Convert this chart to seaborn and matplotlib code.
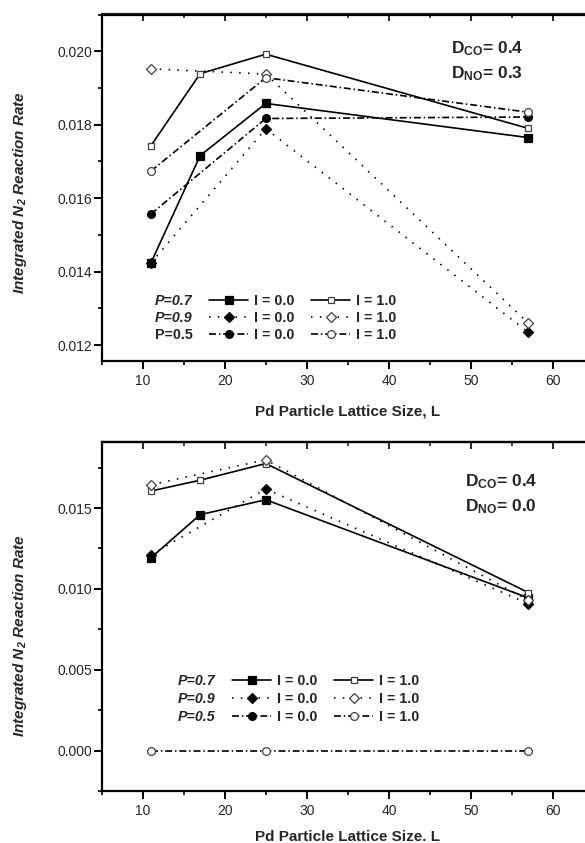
import matplotlib
matplotlib.use("Agg")
import matplotlib.pyplot as plt
from matplotlib.lines import Line2D
from matplotlib.ticker import MultipleLocator, FormatStrFormatter
import seaborn as sns

# Lattice sizes L
L_all = [11, 17, 25, 57]
L_three = [11, 25, 57]

# Upper panel: D_CO = 0.4, D_NO = 0.3
top_p07_i0 = [0.01424, 0.01716, 0.01858, 0.01765]
top_p07_i1 = [0.01743, 0.01939, 0.01992, 0.01790]
top_p09_i0 = [0.01424, 0.01789, 0.01235]
top_p09_i1 = [0.01952, 0.01938, 0.01260]
top_p05_i0 = [0.01557, 0.01817, 0.01821]
top_p05_i1 = [0.01674, 0.01928, 0.01834]

# Lower panel: D_CO = 0.4, D_NO = 0.0
bot_p07_i0 = [0.01192, 0.01459, 0.01551, 0.00944]
bot_p07_i1 = [0.01605, 0.01672, 0.01775, 0.00977]
bot_p09_i0 = [0.01211, 0.01617, 0.00908]
bot_p09_i1 = [0.01644, 0.01798, 0.00930]
bot_p05_i1 = [0.0, 0.0, 0.0]

p_labels = ["P=0.7", "P=0.9", "P=0.5"]
i_labels = ["I = 0.0", "I = 1.0"]
xlabel_top = "Pd Particle Lattice Size, L"
xlabel_bot = "Pd Particle Lattice Size. L"
ylabel = "Integrated N$_2$ Reaction Rate"
top_params = ["D$_{CO}$= 0.4", "D$_{NO}$= 0.3"]
bot_params = ["D$_{CO}$= 0.4", "D$_{NO}$= 0.0"]

sns.set_style("ticks")
plt.rcParams["font.family"] = ["Liberation Sans", "DejaVu Sans"]
plt.rcParams["mathtext.default"] = "regular"

W, H = 585, 843
fig = plt.figure(figsize=(W / 100, H / 100), dpi=100)


def fx(px):
    return px / W


def fy(py):
    return 1 - py / H


LW = 1.2
SOLID = "-"
DOTTED = (0, (0.9, 4.4))
DASHDOT = (0, (4.2, 1.7, 0.9, 1.7))

# (linestyle, marker, filled, markersize)
STYLE = {
    ("0.7", 0): (SOLID, "s", True, 5.3),
    ("0.7", 1): (SOLID, "s", False, 5.0),
    ("0.9", 0): (DOTTED, "D", True, 5.0),
    ("0.9", 1): (DOTTED, "D", False, 5.0),
    ("0.5", 0): (DASHDOT, "o", True, 5.6),
    ("0.5", 1): (DASHDOT, "o", False, 5.6),
}


def kw(key):
    ls, mk, filled, ms = STYLE[key]
    return dict(
        color="black", linestyle=ls, linewidth=LW, marker=mk, markersize=ms,
        markerfacecolor="black" if filled else "white",
        markeredgecolor="black" if filled else "0.25",
        markeredgewidth=0.9,
    )


def series(ax, x, y, key):
    sns.lineplot(x=x, y=y, ax=ax, legend=False, estimator=None,
                 errorbar=None, sort=False, **kw(key))


def style_axes(ax, ylim, ymajor, yminor):
    ax.set_xlim(5, 65)
    ax.set_ylim(*ylim)
    ax.xaxis.set_major_locator(MultipleLocator(10))
    ax.xaxis.set_minor_locator(MultipleLocator(5))
    ax.yaxis.set_major_locator(MultipleLocator(ymajor))
    ax.yaxis.set_minor_locator(MultipleLocator(yminor))
    ax.yaxis.set_major_formatter(FormatStrFormatter("%.3f"))
    for side in ["left", "bottom", "top"]:
        ax.spines[side].set_linewidth(1.6)
        ax.spines[side].set_color("black")
    ax.spines["right"].set_visible(False)
    ax.tick_params(axis="both", which="major", direction="out", length=5.5,
                   width=1.4, labelsize=10, color="black")
    ax.tick_params(axis="both", which="minor", direction="out", length=3.2,
                   width=1.2, color="black")
    ax.tick_params(axis="x", pad=4.0)
    ax.tick_params(axis="y", pad=1.2)
    sec = ax.secondary_xaxis("top")
    sec.xaxis.set_major_locator(MultipleLocator(10))
    sec.xaxis.set_minor_locator(MultipleLocator(5))
    sec.tick_params(which="major", direction="in", length=4.8, width=1.4,
                    labeltop=False)
    sec.tick_params(which="minor", direction="in", length=3.0, width=1.2)
    sec.spines["top"].set_linewidth(1.6)


def legend(ax, anchor_px, italic_rows, spacing):
    fs = 10.3
    blank = [Line2D([], [], linestyle="none") for _ in range(3)]
    h0 = [Line2D([], [], **kw((p, 0))) for p in ["0.7", "0.9", "0.5"]]
    h1 = [Line2D([], [], **kw((p, 1))) for p in ["0.7", "0.9", "0.5"]]
    handles = blank + h0 + h1
    labels = p_labels + [i_labels[0]] * 3 + [i_labels[1]] * 3
    leg = ax.legend(handles, labels, ncol=3, loc="center left",
                    bbox_to_anchor=(fx(anchor_px[0]), fy(anchor_px[1])),
                    bbox_transform=fig.transFigure, frameon=False,
                    prop=dict(weight="bold", size=fs), handlelength=2.73,
                    handletextpad=0.42, columnspacing=1.15,
                    labelspacing=spacing, borderpad=0, borderaxespad=0)
    for t, it in zip(leg.get_texts()[:3], italic_rows):
        if it:
            t.set_fontstyle("italic")
    return leg


# ---------- upper panel ----------
ax1 = fig.add_axes([fx(101.7), fy(361), fx(594) - fx(101.7), (361 - 14.5) / H])
series(ax1, L_all, top_p07_i0, ("0.7", 0))
series(ax1, L_all, top_p07_i1, ("0.7", 1))
series(ax1, L_three, top_p09_i0, ("0.9", 0))
series(ax1, L_three, top_p09_i1, ("0.9", 1))
series(ax1, L_three, top_p05_i0, ("0.5", 0))
series(ax1, L_three, top_p05_i1, ("0.5", 1))
style_axes(ax1, (0.01157, 0.0210), 0.002, 0.001)
legend(ax1, (110, 318), [True, True, False], 0.23)

# ---------- lower panel ----------
ax2 = fig.add_axes([fx(101.7), fy(791), fx(594) - fx(101.7), (791 - 441.7) / H])
series(ax2, L_all, bot_p07_i0, ("0.7", 0))
series(ax2, L_all, bot_p07_i1, ("0.7", 1))
series(ax2, L_three, bot_p09_i0, ("0.9", 0))
series(ax2, L_three, bot_p09_i1, ("0.9", 1))
series(ax2, L_three, bot_p05_i1, ("0.5", 1))
style_axes(ax2, (-0.0025, 0.0191), 0.005, 0.0025)
legend(ax2, (133, 699), [True, True, True], 0.28)

# axis titles
for ax, xl, xly, yly in [(ax1, xlabel_top, -0.146, 0.485),
                         (ax2, xlabel_bot, -0.131, 0.446)]:
    ax.set_xlabel(xl, fontsize=11, fontweight="bold", va="center")
    ax.xaxis.set_label_coords(0.5, xly)
    ax.set_ylabel(ylabel, fontsize=11, fontweight="bold", fontstyle="italic",
                  va="center", ha="center")
    ax.yaxis.set_label_coords(-0.166, yly)

# diffusion parameters
for (x0, y0, y1), texts in [((450.7, 53.3, 78.3), top_params),
                            ((465, 486, 511.7), bot_params)]:
    fig.text(fx(x0), fy(y0), texts[0], fontsize=12.5, fontweight="bold",
             va="baseline", ha="left")
    fig.text(fx(x0), fy(y1), texts[1], fontsize=12.5, fontweight="bold",
             va="baseline", ha="left")

fig.savefig("out.png", dpi=100)
